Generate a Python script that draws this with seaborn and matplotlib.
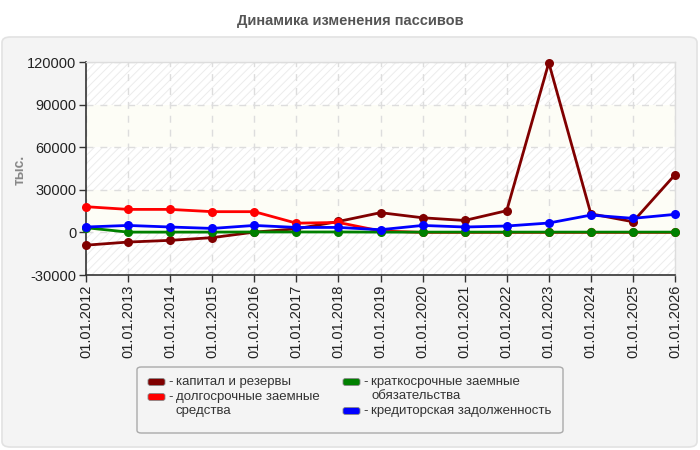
import matplotlib
matplotlib.use("Agg")
import matplotlib.pyplot as plt
import seaborn as sns
import pandas as pd
import numpy as np
from matplotlib.patches import FancyBboxPatch

years = ["01.01.2012", "01.01.2013", "01.01.2014", "01.01.2015", "01.01.2016",
         "01.01.2017", "01.01.2018", "01.01.2019", "01.01.2020", "01.01.2021",
         "01.01.2022", "01.01.2023", "01.01.2024", "01.01.2025", "01.01.2026"]
capital = [-9000, -6800, -5600, -3700, 200, 2500, 7700, 13900, 10300, 8400,
           15300, 119500, 13100, 7500, 40600]
long_term = [18100, 16200, 16200, 14600, 14600, 6500, 7000, 1000, 0, 0,
             0, 0, 0, 0, 0]
short_term = [3300, 200, 200, 200, 300, 300, 300, 200, 200, 200,
              200, 200, 200, 200, 200]
creditor = [3800, 4900, 3800, 2800, 4900, 3500, 3500, 1900, 4900, 3800,
            4500, 6600, 12200, 9900, 12700]

names = ["капитал и резервы", "долгосрочные заемные\nсредства",
         "краткосрочные заемные\nобязательства", "кредиторская задолженность"]
colors = ["#800000", "#ff0000", "#008000", "#0000ff"]
yticks = [-30000, 0, 30000, 60000, 90000, 120000]

rows = []
for name, vals in zip(names, [capital, long_term, short_term, creditor]):
    for i, v in enumerate(vals):
        rows.append({"x": i, "value": v, "series": name})
df = pd.DataFrame(rows)

sns.set_theme(style="white")
plt.rcParams['font.family'] = ['Liberation Sans', 'DejaVu Sans']
plt.rcParams['hatch.color'] = '#ececec'
plt.rcParams['hatch.linewidth'] = 0.7

W, H = 700.0, 450.0
def fx(px):
    return px / W
def fy(py):
    return 1 - py / H

fig = plt.figure(figsize=(7, 4.5), dpi=100)
fig.patch.set_facecolor("white")
panel = FancyBboxPatch((fx(2), fy(447)), 695 / W, 410 / H,
                       boxstyle="round,pad=0,rounding_size=0.012",
                       transform=fig.transFigure, facecolor="#f4f4f4",
                       edgecolor="#e2e2e2", linewidth=1.2, zorder=-10)
fig.patches.append(panel)

ax = fig.add_axes([fx(86), fy(275), 589 / W, 213 / H])
ax.set_zorder(1)
ax.set_facecolor("white")

for k, lo in enumerate(range(-30000, 120000, 30000)):
    if k % 2 == 0:
        ax.axhspan(lo, lo + 30000, facecolor="white", edgecolor="#ececec",
                   hatch="////", linewidth=0, zorder=0)
    else:
        ax.axhspan(lo, lo + 30000, facecolor="#fdfdf6", edgecolor="none",
                   linewidth=0, zorder=0)

sns.lineplot(data=df, x="x", y="value", hue="series", hue_order=names,
             palette=colors, marker="o", markersize=6.5, markeredgewidth=0,
             linewidth=2, ax=ax, legend=False, zorder=3, clip_on=False)

ax.set_xlim(0, len(years) - 1)
ax.set_ylim(-30000, 120000)
ax.set_xticks(range(len(years)))
ax.set_xticklabels(years, rotation=90, fontsize=10.5, color="#222222")
ax.set_yticks(yticks)
ax.set_yticklabels([str(t) for t in yticks], fontsize=10.5, color="#222222")
ax.tick_params(axis="both", which="both", length=5, width=1, color="#333333",
               direction="out", bottom=True, left=True, pad=2)
ax.grid(True, linestyle=(0, (5, 5)), color="#dddddd", linewidth=1)
ax.set_axisbelow(True)
ax.set_xlabel("")
ax.set_ylabel("")
for s in ["top", "right"]:
    ax.spines[s].set_color("#dddddd")
    ax.spines[s].set_linewidth(1)
for s in ["left", "bottom"]:
    ax.spines[s].set_color("#333333")
    ax.spines[s].set_linewidth(1.2)

fig.text(fx(20), fy(170), "тыс.", rotation=90, ha="center", va="center",
         fontsize=10, fontweight="bold", color="#888888")
fig.text(0.5, fy(21), "Динамика изменения пассивов", ha="center",
         va="center", fontsize=10.5, fontweight="bold", color="#555555")

# legend (manual layout)
frame = FancyBboxPatch((fx(137), fy(433)), 426 / W, 66 / H,
                       boxstyle="round,pad=0,rounding_size=0.006",
                       transform=fig.transFigure, facecolor="#f4f4f4",
                       edgecolor="#aaaaaa", linewidth=1, zorder=-5)
fig.patches.append(frame)
entries = [(148, 382), (148, 397), (343, 382), (343, 411)]
for (hx, hy), name, c in zip(entries, names, colors):
    fig.patches.append(FancyBboxPatch((fx(hx), fy(hy + 3.5)), 17 / W, 7 / H,
                                      boxstyle="round,pad=0,rounding_size=0.004",
                                      transform=fig.transFigure, facecolor=c,
                                      edgecolor="#888888", linewidth=0.6, zorder=-4))
    fig.text(fx(hx + 20), fy(hy), "-", ha="left", va="center",
             fontsize=9.5, color="#333333")
    for j, line in enumerate(name.split("\n")):
        fig.text(fx(hx + 28), fy(hy + 14 * j), line, ha="left", va="center",
                 fontsize=9.5, color="#333333")

fig.savefig("out.png", dpi=100, facecolor=fig.get_facecolor())
